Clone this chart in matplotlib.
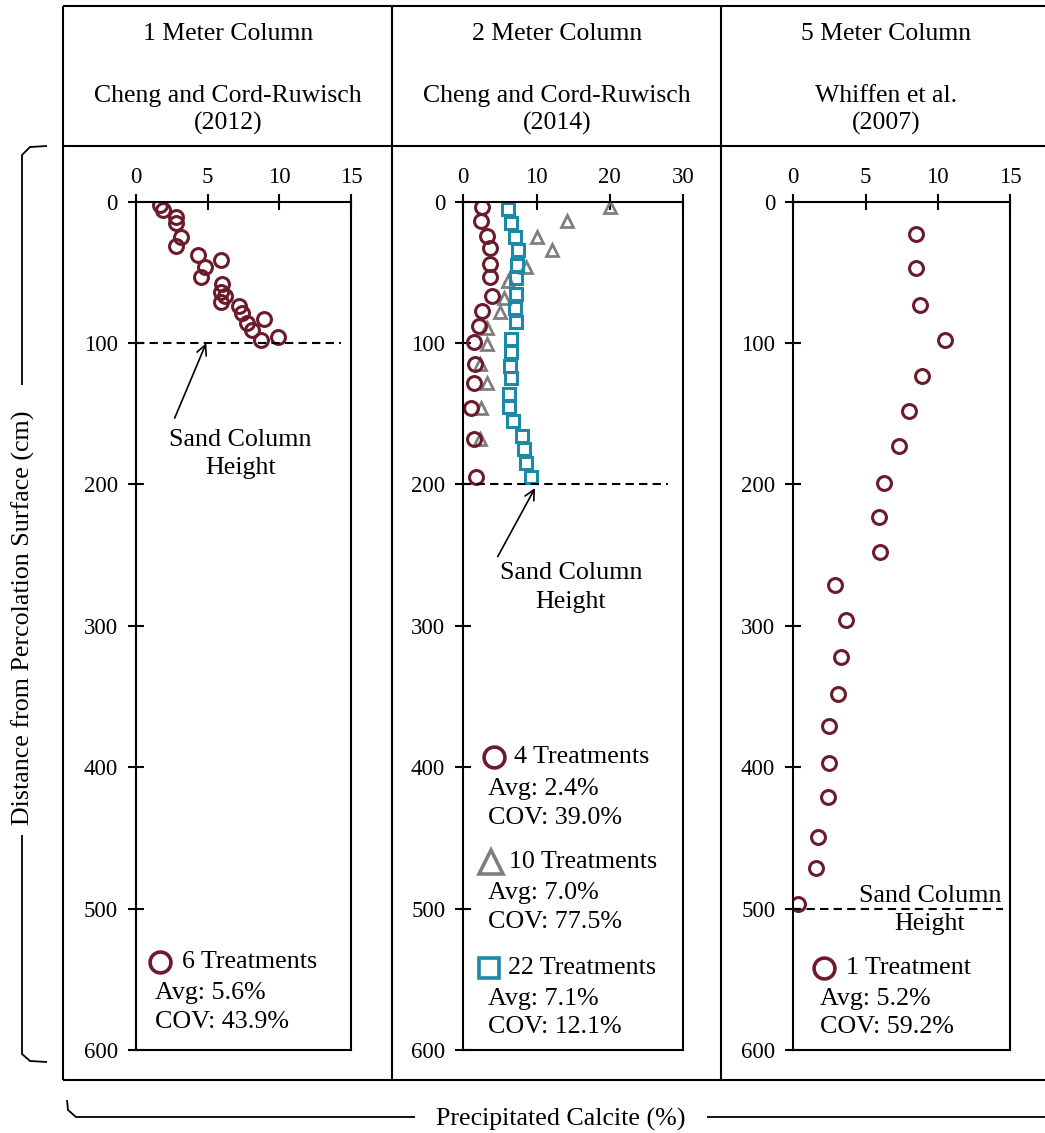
import matplotlib
matplotlib.use("Agg")
import matplotlib.pyplot as plt
from matplotlib.lines import Line2D

plt.rcParams['font.family'] = ['Liberation Serif', 'DejaVu Serif']

# ---- data: precipitated calcite (%) vs. depth below percolation surface (cm)
p1_calcite = [1.7, 1.85, 2.8, 2.8, 3.15, 2.8, 4.3, 5.9, 4.8, 4.5, 6.0, 5.9, 6.2,
              5.9, 7.2, 7.4, 7.75, 8.9, 8.1, 9.9, 8.7]
p1_depth = [2, 6, 11, 15, 25, 31, 38, 41, 46, 53, 58, 64, 67, 71, 74, 79, 86,
            83, 91, 96, 98]

p2_circ_calcite = [2.5, 2.4, 3.3, 3.6, 3.7, 3.7, 3.9, 2.5, 2.2, 1.4, 1.6, 1.4,
                   1.1, 1.4, 1.8]
p2_circ_depth = [4, 14, 24, 33, 44, 53, 67, 77, 88, 99, 115, 128, 146, 168, 195]

p2_tri_calcite = [20.0, 14.1, 10.1, 12.1, 8.6, 6.1, 5.5, 5.0, 3.3, 3.2, 2.3,
                  3.3, 2.4, 2.3]
p2_tri_depth = [3.5, 14, 25, 34, 46, 56, 68, 78, 89, 101, 115, 128, 146, 168]

p2_sq_calcite = [6.1, 6.5, 7.05, 7.5, 7.4, 7.2, 7.2, 7.05, 7.2, 6.5, 6.5, 6.4,
                 6.5, 6.2, 6.2, 6.8, 7.95, 8.3, 8.6, 9.3]
p2_sq_depth = [5, 15, 25, 34, 45, 54, 65, 75, 85, 97, 106, 116, 125, 136, 145,
               155, 166, 175, 185, 195]

p3_calcite = [8.5, 8.5, 8.8, 10.5, 8.9, 8.0, 7.3, 6.3, 5.9, 6.0, 2.9, 3.65, 3.3,
              3.1, 2.5, 2.5, 2.4, 1.7, 1.6, 0.3]
p3_depth = [23, 47, 73, 98, 123, 148, 173, 199, 223, 248, 271, 296, 322, 348,
            371, 397, 421, 449, 471, 497]

sand_height = [100, 200, 500]
x_limits = [15, 30, 15]
x_ticks = [[0, 5, 10, 15], [0, 10, 20, 30], [0, 5, 10, 15]]
y_ticks = [0, 100, 200, 300, 400, 500, 600]

headers = [("1 Meter Column", "Cheng and Cord-Ruwisch\n(2012)"),
           ("2 Meter Column", "Cheng and Cord-Ruwisch\n(2014)"),
           ("5 Meter Column", "Whiffen et al.\n(2007)")]

C_CIRC = '#6B1B2B'
C_TRI = '#7F7F7F'
C_SQ = '#1B8AA8'

TXT = 18.7

W, H = 1045, 1133
fig = plt.figure(figsize=(W / 100, H / 100), dpi=100)


def fx(px):
    return px / W


def fy(py):
    return 1 - py / H


def fig_line(xs, ys, lw=1.5, color='black'):
    fig.add_artist(Line2D([fx(x) for x in xs], [fy(y) for y in ys],
                          lw=lw, color=color, solid_capstyle='butt',
                          solid_joinstyle='round'))


# ---- surrounding table
fig_line([63, 1045], [6, 6])
fig_line([63, 1045], [146, 146])
fig_line([63, 1045], [1080, 1080])
for xv in (63, 392, 721):
    fig_line([xv, xv], [6, 1080])

header_centers = [228, 557, 886]
for (t1, t2), xc in zip(headers, header_centers):
    fig.text(fx(xc), fy(33.5), t1, ha='center', va='center', fontsize=18.5)
    fig.text(fx(xc), fy(110), t2, ha='center', va='center', fontsize=18.5,
             linespacing=1.3)

# ---- axes
ax_left = [136, 463.3, 793.3]
ax_right = [351, 683, 1010]
ax_top, ax_bot = 201.7, 1050
axes = []
for l, r in zip(ax_left, ax_right):
    ax = fig.add_axes([fx(l), fy(ax_bot), fx(r) - fx(l), fy(ax_top) - fy(ax_bot)])
    axes.append(ax)

for ax, xl, xt in zip(axes, x_limits, x_ticks):
    ax.set_xlim(0, xl)
    ax.set_ylim(600, 0)
    ax.set_xticks(xt)
    ax.set_yticks(y_ticks)
    ax.xaxis.tick_top()
    ax.tick_params(axis='both', direction='inout', length=12, width=1.5,
                   labelsize=16.5, pad=7)
    ax.tick_params(axis='x', pad=4)
    for s in ax.spines.values():
        s.set_linewidth(1.5)
    ax.set_facecolor('none')

mk = dict(linestyle='none', markerfacecolor='none')
axes[0].plot(p1_calcite, p1_depth, marker='o', ms=10, mew=2.2,
             markeredgecolor=C_CIRC, **mk)
axes[1].plot(p2_tri_calcite, p2_tri_depth, marker='^', ms=9, mew=2.0,
             markeredgecolor=C_TRI, **mk)
axes[1].plot(p2_circ_calcite, p2_circ_depth, marker='o', ms=10, mew=2.2,
             markeredgecolor=C_CIRC, **mk)
axes[1].plot(p2_sq_calcite, p2_sq_depth, marker='s', ms=8.5, mew=2.2,
             markeredgecolor=C_SQ, **mk)
axes[2].plot(p3_calcite, p3_depth, marker='o', ms=10, mew=2.2,
             markeredgecolor=C_CIRC, **mk)

# ---- sand column height markers
dash_extent = [0.952, 0.93, 0.967]
for ax, h, xm in zip(axes, sand_height, dash_extent):
    ax.axhline(h, xmin=0, xmax=xm, color='black', lw=1.5, ls=(0, (4, 2.5)))

arrow = dict(arrowstyle='->', lw=1.2, color='black', shrinkA=0, shrinkB=0,
             mutation_scale=18)
axes[0].annotate('', xy=(4.9, 100), xytext=(2.7, 153), arrowprops=arrow)
axes[0].text(7.3, 178.5, "Sand Column\nHeight", ha='center', va='center',
             fontsize=TXT, linespacing=1.4)
axes[1].annotate('', xy=(9.8, 202.5), xytext=(4.7, 251), arrowprops=arrow)
axes[1].text(14.7, 273, "Sand Column\nHeight", ha='center', va='center',
             fontsize=TXT, linespacing=1.4)
axes[2].text(9.47, 501, "Sand Column\nHeight", ha='center', va='center',
             fontsize=TXT, linespacing=1.4)

# ---- in-panel keys
def key(ax, mx, my, marker, color, ms, title, tx, avg, cov, ax_avg, y_avg, y_cov):
    ax.plot([mx], [my], marker=marker, ms=ms, mew=2.6, markeredgecolor=color,
            markerfacecolor='none', transform=ax.transAxes, clip_on=False)
    ax.text(tx, my, title, transform=ax.transAxes, ha='left', va='center',
            fontsize=TXT)
    ax.text(ax_avg, y_avg, avg, transform=ax.transAxes, ha='left',
            va='center', fontsize=TXT)
    ax.text(ax_avg, y_cov, cov, transform=ax.transAxes, ha='left',
            va='center', fontsize=TXT)


key(axes[0], 0.112, 0.104, 'o', C_CIRC, 15, "6 Treatments", 0.214,
    "Avg: 5.6%", "COV: 43.9%", 0.088, 0.067, 0.033)
key(axes[1], 0.140, 0.345, 'o', C_CIRC, 15, "4 Treatments", 0.231,
    "Avg: 2.4%", "COV: 39.0%", 0.112, 0.308, 0.274)
key(axes[1], 0.126, 0.222, '^', C_TRI, 17, "10 Treatments", 0.208,
    "Avg: 7.0%", "COV: 77.5%", 0.112, 0.185, 0.151)
key(axes[1], 0.117, 0.0967, 's', C_SQ, 15, "22 Treatments", 0.203,
    "Avg: 7.1%", "COV: 12.1%", 0.112, 0.060, 0.027)
key(axes[2], 0.142, 0.0967, 'o', C_CIRC, 15, "1 Treatment", 0.243,
    "Avg: 5.2%", "COV: 59.2%", 0.123, 0.060, 0.027)

# ---- shared axis labels with bracket lines
fig_line([47, 30, 22, 22], [146, 147, 155, 385], lw=1.3)
fig_line([22, 22, 30, 47], [835, 1054, 1061, 1062], lw=1.3)
fig.text(fx(23), fy(618), "Distance from Percolation Surface (cm)",
         rotation=90, ha='center', va='center', fontsize=TXT)

fig_line([67, 68, 76, 415], [1100, 1110, 1117, 1117], lw=1.3)
fig_line([707, 1045], [1117, 1117], lw=1.3)
fig.text(fx(561), fy(1119), "Precipitated Calcite (%)", ha='center',
         va='center', fontsize=TXT)

fig.savefig("out.png", dpi=100, facecolor='white')
